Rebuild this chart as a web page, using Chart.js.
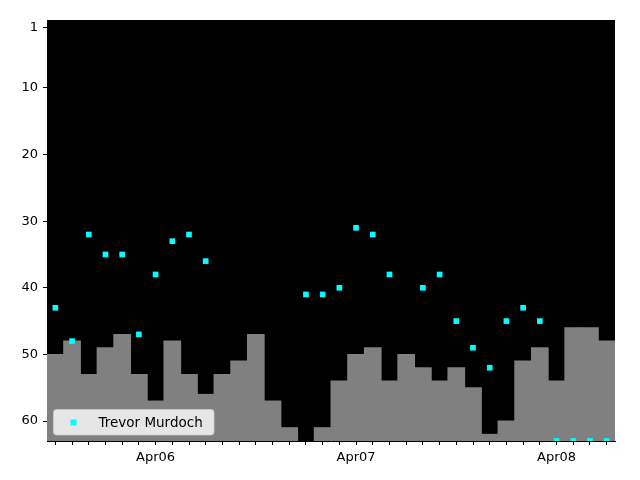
<!DOCTYPE html>
<html>
<head>
<meta charset="utf-8">
<script src="https://cdn.jsdelivr.net/npm/chart.js@4/dist/chart.umd.min.js"></script>
<style>
	body { margin: 0; background: #ffffff; }
	canvas { display: block; }
</style>
</head>
<body>
<canvas id="chart" width="640" height="480"></canvas>
<script>
// hours after Apr05 00:00, one slot every 2 hours
const hours = [12, 14, 16, 18, 20, 22, 24, 26, 28, 30, 32, 34, 36, 38, 40, 42, 44,
	46, 48, 50, 52, 54, 56, 58, 60, 62, 64, 66, 68, 70, 72, 74, 76, 78];
const ranks = [43, 48, 32, 35, 35, 47, 38, 33, 32, 36, null, null, null, null, null, 41, 41,
	40, 31, 32, 38, null, 40, 38, 45, 49, 52, 45, 43, 45, 63, 63, 63, 63];
const barValues = [50, 48, 53, 49, 47, 53, 57, 48, 53, 56, 53, 51, 47, 57, 61, null, 61,
	54, 50, 49, 54, 50, 52, 54, 52, 55, 62, 60, 51, 49, 54, 46, 46, 48];
const yTicks = [1, 10, 20, 30, 40, 50, 60];
const dayTicks = [24, 48, 72];
const dayLabels = ["Apr06", "Apr07", "Apr08"];
const seriesName = "Trevor Murdoch";

const FONT = "DejaVu Sans";

const blackArea = {
	id: "blackArea",
	beforeDraw(chart) {
		const a = chart.chartArea;
		const ctx = chart.ctx;
		ctx.save();
		ctx.fillStyle = "#000000";
		ctx.fillRect(a.left, a.top, a.right - a.left, a.bottom - a.top);
		ctx.restore();
	}
};

const innerLegend = {
	id: "innerLegend",
	afterDraw(chart) {
		const a = chart.chartArea;
		const ctx = chart.ctx;
		const x = a.left + 6.5, y = a.bottom - 31.5, w = 160.5, h = 25.5, r = 3;
		ctx.save();
		ctx.beginPath();
		ctx.roundRect(x, y, w, h, r);
		ctx.fillStyle = "rgba(255,255,255,0.8)";
		ctx.fill();
		ctx.strokeStyle = "rgba(204,204,204,0.8)";
		ctx.lineWidth = 1;
		ctx.stroke();
		ctx.fillStyle = "#00ffff";
		ctx.fillRect(x + 17, y + 10, 6, 6);
		ctx.fillStyle = "#000000";
		ctx.font = "13.5px '" + FONT + "'";
		ctx.textBaseline = "middle";
		ctx.fillText(chart.data.datasets[0].label, x + 45, y + 13.5);
		ctx.restore();
	}
};

const barData = hours.map((h, i) => ({ x: h, y: barValues[i] }));
const pointData = hours.map((h, i) => ({ x: h, y: ranks[i] }));

const ctx = document.getElementById("chart").getContext("2d");
new Chart(ctx, {
	type: "bar",
	data: {
		datasets: [
			{
				type: "scatter",
				label: seriesName,
				data: pointData,
				backgroundColor: "#00ffff",
				borderColor: "#00ffff",
				borderWidth: 0,
				pointStyle: "rect",
				pointRadius: 4,
				clip: 0,
				order: 0
			},
			{
				type: "bar",
				label: "bars",
				data: barData,
				base: 63,
				backgroundColor: "#808080",
				borderWidth: 0,
				inflateAmount: 0.5,
				barPercentage: 1,
				categoryPercentage: 1,
				clip: 0,
				order: 1
			}
		]
	},
	options: {
		responsive: false,
		animation: false,
		layout: {
			padding: { top: 20, right: 25, left: 0, bottom: 0 }
		},
		plugins: {
			legend: { display: false },
			tooltip: { enabled: false }
		},
		scales: {
			x: {
				type: "linear",
				min: 11,
				max: 79,
				offset: false,
				afterFit: scale => { scale.height = 39; },
				afterBuildTicks: scale => {
					scale.ticks = hours.map(h => ({ value: h }));
				},
				grid: {
					display: true,
					offset: false,
					drawOnChartArea: false,
					drawTicks: true,
					tickLength: 4,
					color: "#000000"
				},
				border: { display: true, color: "#000000", width: 1 },
				ticks: {
					autoSkip: false,
					maxRotation: 0,
					padding: 5,
					color: "#000000",
					font: { family: FONT, size: 13 },
					callback: value => {
						const k = dayTicks.indexOf(value);
						return k >= 0 ? dayLabels[k] : "";
					}
				}
			},
			y: {
				type: "linear",
				reverse: true,
				min: -0.2,
				max: 63,
				afterFit: scale => { scale.width = 47; },
				afterBuildTicks: scale => {
					scale.ticks = yTicks.map(v => ({ value: v }));
				},
				grid: {
					display: true,
					drawOnChartArea: false,
					drawTicks: true,
					tickLength: 4,
					color: "#000000"
				},
				border: { display: true, color: "#000000", width: 1 },
				ticks: {
					padding: 5,
					color: "#000000",
					font: { family: FONT, size: 13 }
				}
			}
		}
	},
	plugins: [blackArea, innerLegend]
});
</script>
</body>
</html>
